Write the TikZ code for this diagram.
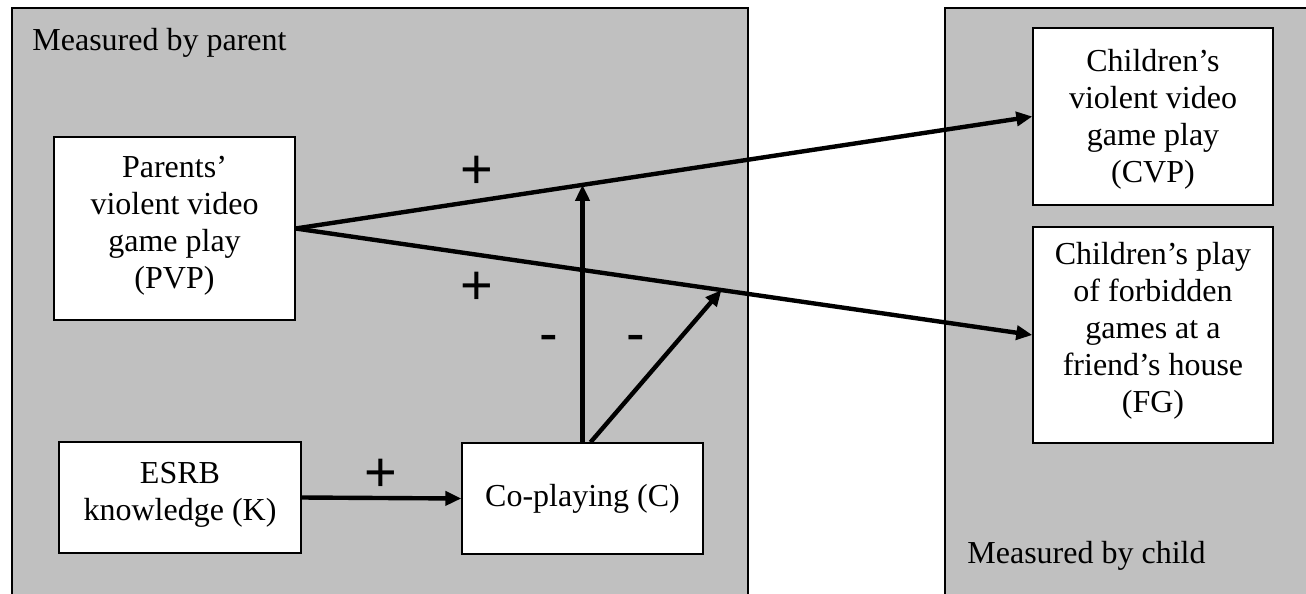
\documentclass[tikz,border=0pt]{standalone}
\usepackage{fontspec}
\setmainfont{Liberation Serif}
\newfontfamily\signfont{Liberation Sans}
\usetikzlibrary{arrows.meta,calc}
\definecolor{panelgray}{HTML}{C0C0C0}
\begin{document}
\begin{tikzpicture}[x=0.5pt,y=-0.5pt,
  panel/.style={fill=panelgray,draw=black,line width=1pt},
  varbox/.style={draw=black,fill=white,line width=0.7pt,inner sep=0pt},
  vartext/.style={align=center,inner sep=0pt,font=\fontsize{16}{18.5}\selectfont},
  link/.style={line width=2.2pt,-{Triangle[length=8pt,width=7pt]}},
  sign/.style={font=\signfont\fontsize{28}{30}\selectfont,inner sep=0pt},
  caption/.style={font=\fontsize{16}{18.5}\selectfont,anchor=base west,inner sep=0pt}]
\useasboundingbox (0,0) rectangle (1306,594);
\clip (0,0) rectangle (1306,594);

% the two measurement panels
\draw[panel] (12,8) rectangle (748,640);
\draw[panel] (945,8) rectangle (1340,640);
\node[caption] (lblparent) at (32,50) {Measured by parent};
\node[caption] (lblchild) at (967,563) {Measured by child};

% variable boxes
\node[varbox,minimum width=120.5pt,minimum height=91.5pt] (PVP) at (174.5,228.5) {};
\node[varbox,minimum width=121pt,minimum height=55.5pt] (ESRB) at (180,497.5) {};
\node[varbox,minimum width=120.5pt,minimum height=55.5pt] (C) at (582.5,498.5) {};
\node[varbox,minimum width=120pt,minimum height=88.5pt] (CVP) at (1153,116.5) {};
\node[varbox,minimum width=120pt,minimum height=108pt] (FG) at (1153,335) {};

% their texts
\node[vartext] (PVPtext) at (174.5,226) {Parents'\\violent video\\game play\\(PVP)};
\node[vartext] (ESRBtext) at (180,495) {ESRB\\knowledge (K)};
\node[vartext] (Ctext) at (582.5,498.5) {Co-playing (C)};
\node[vartext] (CVPtext) at (1153,119) {Children's\\violent video\\game play\\(CVP)};
\node[vartext] (FGtext) at (1153,331) {Children's play\\of forbidden\\games at a\\friend's house\\(FG)};

% paths
\coordinate (m1) at ($(PVP.east)!0.3896!(CVP.west)$);
\coordinate (m2) at ($(PVP.east)!0.578!(FG.west)$);
\draw[link] (PVP.east) -- (CVP.west);
\draw[link] (PVP.east) -- (FG.west);
\draw[link] (ESRB.east) -- (C.west);
\draw[link] (C.north) -- (C.north |- m1);
\draw[link] ($(C.north)+(8,0)$) -- (m2);

% signs of the effects
\node[sign] (s1) at (477,172) {+};
\node[sign] (s2) at (477,288) {+};
\node[sign] (s3) at (381,475) {+};
\node[sign] (s4) at (549,344) {-};
\node[sign] (s5) at (636,344) {-};
\end{tikzpicture}
\end{document}
